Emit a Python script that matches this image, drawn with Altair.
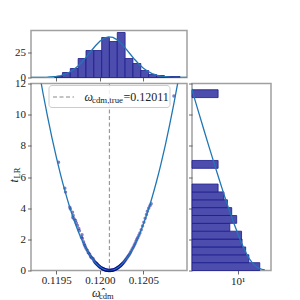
import altair as alt
import pandas as pd

# ---------------- data ----------------
omega_hat = [
    0.119526, 0.119598, 0.119606, 0.119655, 0.119662, 0.119686, 0.119694, 0.119690, 0.119705, 0.119721,
    0.119730, 0.119743, 0.119758, 0.119765, 0.119789, 0.119795, 0.119800, 0.119812, 0.119820, 0.119827,
    0.119835, 0.119845, 0.119858, 0.119866, 0.119875, 0.119884, 0.119893, 0.119900, 0.119910, 0.119923,
    0.119930, 0.119938, 0.119945, 0.119952, 0.119961, 0.119968, 0.119975, 0.119982, 0.119990, 0.119997,
    0.120005, 0.120018, 0.120025, 0.120032, 0.120040, 0.120048, 0.120055, 0.120062, 0.120070, 0.120078,
    0.120085, 0.120092, 0.120100,
    0.120115, 0.120122, 0.120130, 0.120138, 0.120145, 0.120152, 0.120160, 0.120168, 0.120175, 0.120183,
    0.120190, 0.120198, 0.120205, 0.120213, 0.120220, 0.120228, 0.120236, 0.120244, 0.120252, 0.120260,
    0.120268, 0.120276, 0.120284, 0.120292, 0.120300, 0.120310, 0.120320, 0.120330, 0.120340, 0.120350,
    0.120360, 0.120372, 0.120384, 0.120395, 0.120405, 0.120415, 0.120425, 0.120436, 0.120448, 0.120460,
    0.120475, 0.120490, 0.120505, 0.120520, 0.120535, 0.120545, 0.120560, 0.120575, 0.120589, 0.120850,
    0.119958, 0.119972, 0.119986, 0.120000, 0.120012, 0.120028, 0.120044, 0.120058, 0.120074, 0.120088,
    0.120108, 0.120126, 0.120142, 0.120156, 0.120172, 0.120186, 0.120202, 0.120216, 0.120232, 0.120248,
    0.120264, 0.120098, 0.120118, 0.120135, 0.120065, 0.120050, 0.120195, 0.120210, 0.120240, 0.120035,
]
t_lr = [
    6.95, 5.28, 5.03, 4.06, 3.95, 3.74, 3.53, 3.40, 3.30, 3.21,
    3.05, 2.89, 2.70, 2.55, 2.14, 2.30, 2.05, 1.85, 1.70, 1.60,
    1.50, 1.38, 1.28, 1.15, 1.10, 1.03, 0.92, 0.85, 0.80, 0.75,
    0.66, 0.58, 0.53, 0.50, 0.47, 0.42, 0.36, 0.32, 0.28, 0.25,
    0.21, 0.17, 0.14, 0.12, 0.10, 0.08, 0.06, 0.05, 0.03, 0.02,
    0.01, 0.01, 0.00,
    0.00, 0.00, 0.01, 0.02, 0.02, 0.03, 0.05, 0.07, 0.08, 0.10,
    0.13, 0.15, 0.18, 0.21, 0.24, 0.27, 0.31, 0.36, 0.40, 0.44,
    0.49, 0.55, 0.60, 0.66, 0.72, 0.80, 0.88, 0.96, 1.05, 1.14,
    1.25, 1.38, 1.50, 1.62, 1.74, 1.88, 2.00, 2.12, 2.26, 2.40,
    2.62, 2.85, 3.10, 3.35, 3.60, 3.80, 4.00, 4.15, 4.28, 11.20,
    0.44, 0.38, 0.30, 0.23, 0.18, 0.13, 0.09, 0.05, 0.02, 0.01,
    0.00, 0.01, 0.02, 0.04, 0.07, 0.11, 0.16, 0.22, 0.29, 0.37,
    0.46, 0.00, 0.00, 0.01, 0.04, 0.07, 0.14, 0.20, 0.33, 0.11,
]

# fitted parabola
parab_omega = [0.11930, 0.11935, 0.11940, 0.11945, 0.11950, 0.11955, 0.11960, 0.11965, 0.11970,
               0.11975, 0.11980, 0.11985, 0.11990, 0.11995, 0.12000, 0.12005, 0.12010, 0.12015,
               0.12020, 0.12025, 0.12030, 0.12035, 0.12040, 0.12045, 0.12050, 0.12055, 0.12060,
               0.12065, 0.12070, 0.12075, 0.12080, 0.12085, 0.12090, 0.12095]
parab_t = [12.85, 11.31, 9.87, 8.53, 7.29, 6.14, 5.09, 4.14, 3.29,
           2.54, 1.88, 1.32, 0.863, 0.501, 0.237, 0.0705, 0.002, 0.0313,
           0.159, 0.384, 0.707, 1.128, 1.647, 2.263, 2.978, 3.790, 4.701,
           5.709, 6.815, 8.020, 9.322, 10.72, 12.22, 13.81]

omega_true = [0.12011]

# top histogram
top_edges = [0.119481, 0.119571, 0.119661, 0.119751, 0.119841, 0.119931, 0.120021, 0.120110, 0.120200,
             0.120290, 0.120380, 0.120470, 0.120560, 0.120650, 0.120740, 0.120830, 0.120920]
top_counts = [1, 5, 9, 19, 27, 27, 40, 36, 45, 19, 14, 7, 3, 2, 1, 1]
gauss_omega = [0.11921, 0.11930, 0.11940, 0.11950, 0.11955, 0.11960, 0.11965, 0.11970, 0.11975,
               0.11980, 0.11985, 0.11990, 0.11995, 0.12000, 0.12005, 0.12010, 0.12015, 0.12020,
               0.12025, 0.12030, 0.12035, 0.12040, 0.12045, 0.12050, 0.12055, 0.12060, 0.12065,
               0.12070, 0.12080, 0.12090, 0.12100]
gauss_count = [0.015, 0.069, 0.30, 1.09, 1.93, 3.24, 5.20, 7.93, 11.53,
               15.98, 21.08, 26.50, 31.73, 36.18, 39.30, 40.66, 40.07, 37.62,
               33.64, 28.65, 23.24, 17.96, 13.22, 9.27, 6.19, 3.94, 2.39,
               1.38, 0.40, 0.094, 0.018]

# right histogram (log counts)
t_bin_start = [0.0, 0.504, 1.009, 1.513, 2.017, 2.522, 3.026, 3.530, 4.035, 4.539, 5.043, 6.557, 11.096]
t_bin_end = [0.504, 1.009, 1.513, 2.017, 2.522, 3.026, 3.530, 4.035, 4.539, 5.043, 5.548, 7.061, 11.600]
t_counts = [138, 38, 26, 17, 16, 4, 9, 5, 3, 2, 1, 1, 1]
chi2_t = [0.04, 0.07, 0.1, 0.15, 0.25, 0.35, 0.5, 0.75, 1, 1.5, 2, 3, 4, 5, 6, 7, 8, 9, 10, 11, 12]
chi2_count = [250, 186.4, 153.6, 122.3, 90.1, 72.5, 56.2, 40.5, 31.0, 19.7, 13.3, 6.58, 3.46,
              1.874, 1.038, 0.583, 0.331, 0.189, 0.1088, 0.0629, 0.0365]

# tick labels
xticks = [0.1195, 0.1200, 0.1205]
tticks = [0, 2, 4, 6, 8, 10, 12]
top_yticks = [0, 25]

# ---------------- styling ----------------
SERIF = "Liberation Serif"
BAR_FILL = "#4d4dae"
BAR_EDGE = "#1c1c8c"
LINE_C = "#1f77b4"
TXT = "#222222"
XDOM = [0.11921, 0.12100]
MAIN_W, MAIN_H = 156, 187
TOP_H = 47
RIGHT_W = 79

xscale = alt.Scale(domain=XDOM, nice=False, zero=False)
tscale = alt.Scale(domain=[0, 12], nice=False, zero=False)

x_main_axis = alt.Axis(values=xticks, format=".4f", title=None, labelFlush=False,
                       labelOverlap=False, labelPadding=0.5)
y_main_axis = alt.Axis(values=tticks, format="d", title=None, labelOverlap=False,
                       labelFlush=False, tickCount=7)

pts = pd.DataFrame({"omega": omega_hat, "t": t_lr})
parab = pd.DataFrame({"omega": parab_omega, "t": parab_t, "o": list(range(len(parab_t)))})
truth = pd.DataFrame({"omega": omega_true})

points = alt.Chart(pts).mark_circle(size=12, color="#00008b", opacity=0.5).encode(
    x=alt.X("omega:Q", scale=xscale, axis=x_main_axis),
    y=alt.Y("t:Q", scale=tscale, axis=y_main_axis),
)
curve = alt.Chart(parab).mark_line(color=LINE_C, strokeWidth=1.3, clip=True,
                                   interpolate="monotone").encode(
    x=alt.X("omega:Q", scale=xscale, axis=x_main_axis),
    y=alt.Y("t:Q", scale=tscale, axis=y_main_axis), order="o:Q")
vline = alt.Chart(truth).mark_rule(color="#9a9a9a", strokeWidth=1.2, strokeDash=[4, 2.5]).encode(
    x=alt.X("omega:Q", scale=xscale, axis=x_main_axis))

one = pd.DataFrame({"a": [0]})
leg_box = alt.Chart(one).mark_rect(fill="white", fillOpacity=0.85, stroke="#cccccc",
                                   strokeWidth=1, cornerRadius=3).encode(
    x=alt.value(18), x2=alt.value(139), y=alt.value(2), y2=alt.value(24))
leg_line = alt.Chart(one).mark_rule(color="#8a8a8a", strokeWidth=1.2, strokeDash=[4, 2.5]).encode(
    x=alt.value(22), x2=alt.value(43), y=alt.value(13.5))
leg_w = alt.Chart(one).mark_text(text="ω", font=SERIF, fontSize=12, fontStyle="italic",
                                 align="left", baseline="alphabetic", color=TXT).encode(
    x=alt.value(53.5), y=alt.value(17))
leg_sub = alt.Chart(one).mark_text(text="cdm,true", font=SERIF, fontSize=8.8,
                                   align="left", baseline="alphabetic", color=TXT).encode(
    x=alt.value(61), y=alt.value(19.5))
leg_val = alt.Chart(one).mark_text(text="=0.12011", font=SERIF, fontSize=12,
                                   align="left", baseline="alphabetic", color=TXT).encode(
    x=alt.value(92.5), y=alt.value(17))

xt_main = alt.Chart(one).mark_text(text="ω̂", font=SERIF, fontSize=12, fontStyle="italic",
                                   align="left", baseline="alphabetic", color=TXT).encode(
    x=alt.value(61), y=alt.value(MAIN_H + 26))
xt_sub = alt.Chart(one).mark_text(text="cdm", font=SERIF, fontSize=8.5,
                                  align="left", baseline="alphabetic", color=TXT).encode(
    x=alt.value(68), y=alt.value(MAIN_H + 28))
yt_main = alt.Chart(one).mark_text(text="t", font=SERIF, fontSize=12, fontStyle="italic",
                                   angle=270, align="left", baseline="alphabetic", color=TXT).encode(
    x=alt.value(-13.5), y=alt.value(99))
yt_sub = alt.Chart(one).mark_text(text="LR", font=SERIF, fontSize=8.5,
                                  angle=270, align="left", baseline="alphabetic", color=TXT).encode(
    x=alt.value(-11), y=alt.value(95))

main = alt.layer(vline, points, curve, leg_box, leg_line, leg_w, leg_sub, leg_val,
                 xt_main, xt_sub, yt_main, yt_sub).properties(width=MAIN_W, height=MAIN_H)

# top histogram
top_df = pd.DataFrame({"x0": top_edges[:-1], "x1": top_edges[1:], "count": top_counts,
                       "zero": [0] * len(top_counts)})
gauss_df = pd.DataFrame({"omega": gauss_omega, "count": gauss_count})
cscale = alt.Scale(domain=[0, 47], nice=False, zero=True)
x_top_axis = alt.Axis(values=xticks, labels=False, title=None)
y_top_axis = alt.Axis(values=top_yticks, title=None, labelOverlap=False)
top_bars = alt.Chart(top_df).mark_rect(fill=BAR_FILL, stroke=BAR_EDGE, strokeWidth=0.8).encode(
    x=alt.X("x0:Q", scale=xscale, axis=x_top_axis),
    x2="x1:Q",
    y=alt.Y("count:Q", scale=cscale, axis=y_top_axis),
    y2="zero:Q",
)
top_curve = alt.Chart(gauss_df).mark_line(color=LINE_C, strokeWidth=1.3, clip=True).encode(
    x=alt.X("omega:Q", scale=xscale, axis=x_top_axis),
    y=alt.Y("count:Q", scale=cscale, axis=y_top_axis))
top = alt.layer(top_bars, top_curve).properties(width=MAIN_W, height=TOP_H)

# right histogram
right_df = pd.DataFrame({"t0": t_bin_start, "t1": t_bin_end, "count": t_counts})
chi_df = pd.DataFrame({"t": chi2_t, "count": chi2_count})
lscale = alt.Scale(type="log", domain=[0.0457, 520], nice=False)
x_right_axis = alt.Axis(values=[10], labelExpr="'10¹'", title=None, labelPadding=1)
y_right_axis = alt.Axis(values=tticks, labels=False, title=None)
right_bars = alt.Chart(right_df).mark_rect(fill=BAR_FILL, stroke=BAR_EDGE, strokeWidth=0.8).encode(
    x=alt.X("count:Q", scale=lscale, axis=x_right_axis),
    x2=alt.value(0),
    y=alt.Y("t0:Q", scale=tscale, axis=y_right_axis),
    y2="t1:Q",
)
right_curve = alt.Chart(chi_df).mark_line(color=LINE_C, strokeWidth=1.3, clip=True).encode(
    x=alt.X("count:Q", scale=lscale, axis=x_right_axis),
    y=alt.Y("t:Q", scale=tscale, axis=y_right_axis), order="t:Q")
right = alt.layer(right_bars, right_curve).properties(width=RIGHT_W, height=MAIN_H)

blank = alt.Chart(one).mark_point(opacity=0).encode(
    x=alt.X("a:Q", axis=None), y=alt.Y("a:Q", axis=None)
).properties(width=RIGHT_W, height=TOP_H, view=alt.ViewBackground(stroke="transparent"))

chart = alt.concat(top, blank, main, right, columns=2, spacing={"row": 6, "column": 5},
                   bounds="flush").properties(
    padding={"left": -2, "top": 21.5, "right": 2, "bottom": 1}
).configure_axis(
    labelFont=SERIF, labelFontSize=11, labelColor=TXT, tickColor="#444",
    tickSize=3.5, tickWidth=0.8, domain=False, grid=False, labelPadding=2,
    labelOverlap=False,
).configure_view(stroke="#a0a0a0", strokeWidth=1.5)

chart.save("out.html", embed_options={"renderer": "svg", "actions": False})
